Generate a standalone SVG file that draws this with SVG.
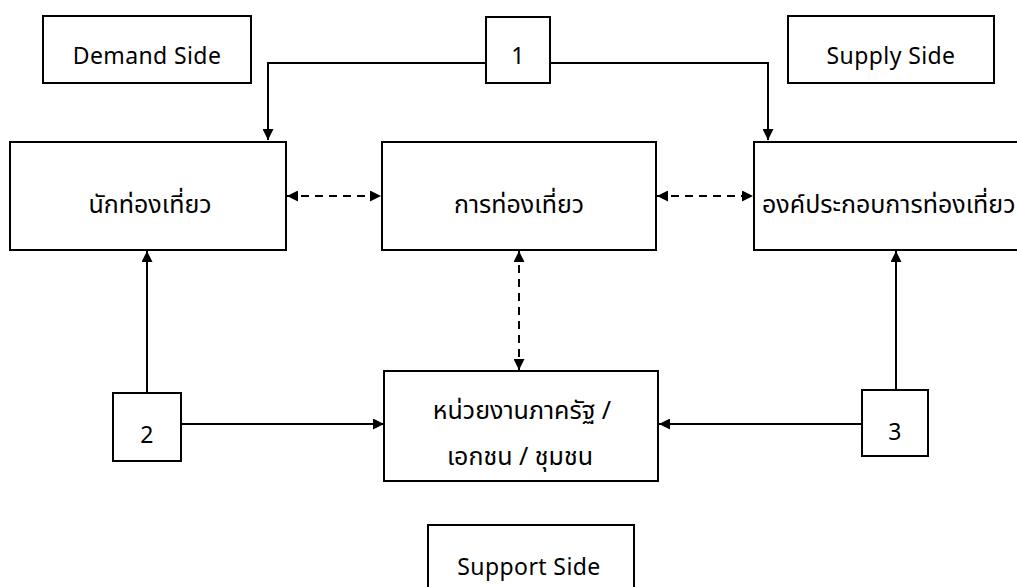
<svg xmlns="http://www.w3.org/2000/svg" width="1017" height="587" viewBox="0 0 1017 587">
<defs>
<style>
.box{fill:#fff;stroke:#000;stroke-width:2}
.t{font-family:"Noto Sans","Noto Sans Thai","Liberation Sans",sans-serif;font-size:25px;fill:#000;text-anchor:middle}
.e{font-size:23px;letter-spacing:0.4px}
.ln{fill:none;stroke:#000;stroke-width:2}
.dash{fill:none;stroke:#000;stroke-width:2;stroke-dasharray:8,6}
</style>
<marker id="ah" viewBox="0 0 10 10" refX="10" refY="5" markerWidth="11" markerHeight="11" markerUnits="userSpaceOnUse" orient="auto-start-reverse">
<path d="M0,0 L10,5 L0,10 z" fill="#000"/>
</marker>
</defs>
<rect width="1017" height="587" fill="#fff"/>
<g id="connectors">
<polyline class="ln" points="486,63 268,63 268,140" marker-end="url(#ah)"/>
<polyline class="ln" points="550,63 768,63 768,140" marker-end="url(#ah)"/>
<line class="dash" x1="287" y1="196" x2="381" y2="196" marker-start="url(#ah)" marker-end="url(#ah)"/>
<line class="dash" x1="657" y1="196" x2="753" y2="196" marker-start="url(#ah)" marker-end="url(#ah)"/>
<line class="dash" x1="519" y1="251" x2="519" y2="370" marker-start="url(#ah)" marker-end="url(#ah)"/>
<line class="ln" x1="147" y1="393" x2="147" y2="251" marker-end="url(#ah)"/>
<line class="ln" x1="181" y1="424" x2="384" y2="424" marker-end="url(#ah)"/>
<line class="ln" x1="896" y1="390" x2="896" y2="251" marker-end="url(#ah)"/>
<line class="ln" x1="862" y1="424" x2="659" y2="424" marker-end="url(#ah)"/>
</g>
<g id="demand-side">
<rect class="box" x="43" y="16" width="208" height="67"/>
<text class="t e" x="147" y="64">Demand Side</text>
</g>
<g id="label-1">
<rect class="box" x="486" y="17" width="64" height="66"/>
<text class="t e" x="518" y="64">1</text>
</g>
<g id="supply-side">
<rect class="box" x="788" y="16" width="206" height="67"/>
<text class="t e" x="891" y="64">Supply Side</text>
</g>
<g id="tourist">
<rect class="box" x="10" y="142" width="276" height="108"/>
<text class="t" x="150" y="213">นักท่องเที่ยว</text>
</g>
<g id="tourism">
<rect class="box" x="382" y="142" width="274" height="108"/>
<text class="t" x="519" y="213">การท่องเที่ยว</text>
</g>
<g id="tourism-components">
<rect class="box" x="754" y="142" width="280" height="108"/>
<text class="t" x="762" y="213" style="text-anchor:start">องค์ประกอบการท่องเที่ยว</text>
</g>
<g id="agencies">
<rect class="box" x="384" y="371" width="274" height="110"/>
<text class="t" x="522" y="419">หน่วยงานภาครัฐ /</text>
<text class="t" x="520" y="465">เอกชน / ชุมชน</text>
</g>
<g id="label-2">
<rect class="box" x="113" y="393" width="68" height="68"/>
<text class="t e" x="147" y="443">2</text>
</g>
<g id="label-3">
<rect class="box" x="862" y="390" width="66" height="66"/>
<text class="t e" x="895" y="440">3</text>
</g>
<g id="support-side">
<rect class="box" x="428" y="525" width="206" height="70"/>
<text class="t e" x="529" y="575">Support Side</text>
</g>
</svg>
